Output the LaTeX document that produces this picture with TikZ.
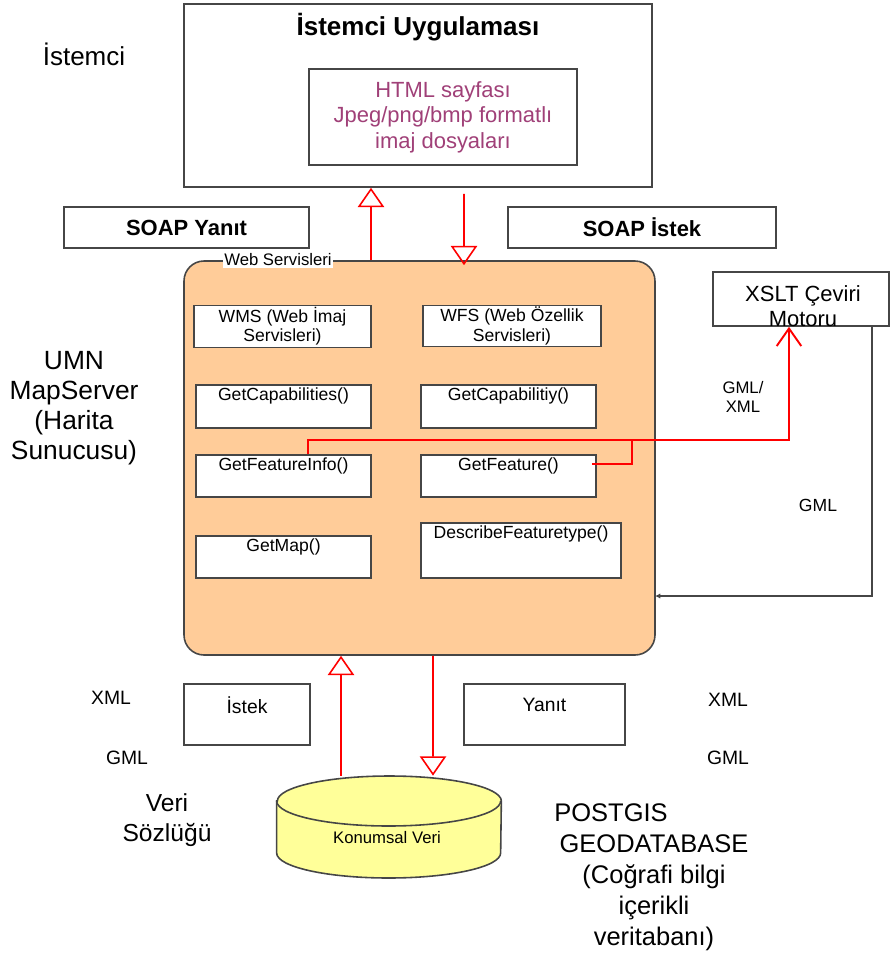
\documentclass[tikz,border=0pt]{standalone}
\usepackage{fontspec}
\setmainfont{Liberation Sans}
\usepackage{xcolor}
\definecolor{boxgrey}{RGB}{70, 70, 70}
\definecolor{peachfill}{RGB}{255, 204, 153}
\definecolor{htmlpurple}{RGB}{160, 64, 120}
\definecolor{dbyellow}{RGB}{255, 255, 153}
\definecolor{flowred}{RGB}{255, 0, 0}
\usetikzlibrary{shapes.geometric, arrows.meta, positioning, calc}

\begin{document}
\begin{tikzpicture}[
    box/.style={rectangle, draw=boxgrey, fill=white, line width=0.9pt, inner sep=1pt, align=center},
    svc/.style={box, minimum width=3.5cm, minimum height=0.84cm,
        label={[font=\fontsize{10}{11}\selectfont, anchor=north, inner sep=1pt, yshift=-1pt]north:#1}},
    plain/.style={align=center, inner sep=1pt},
    openarrow/.style={-{Triangle[open, width=15pt, length=11pt, line width=0.9pt]}, flowred, line width=1.1pt},
    redline/.style={flowred, line width=1.1pt},
    barbarrow/.style={-{Straight Barb[width=14pt, length=10pt]}, flowred, line width=1.1pt},
    gmlarrow/.style={-{Latex[length=3pt, width=3pt]}, boxgrey, line width=0.8pt}
]
    \useasboundingbox (0,0) rectangle (17.8,-19.16);

    % Client side
    \node[box, minimum width=9.36cm, minimum height=3.66cm] (client) at (8.36,-1.91) {};
    \node[plain, font=\fontsize{14.8}{16}\selectfont\bfseries] (clienttitle) at (8.36,-0.54) {İstemci Uygulaması};
    \node[box, minimum width=5.36cm, minimum height=1.92cm, text=htmlpurple,
        font=\fontsize{12.5}{14.5}\selectfont] (html) at (8.86,-2.34) {HTML sayfası\\Jpeg/png/bmp formatlı\\imaj dosyaları};
    \node[plain, font=\fontsize{14.8}{16}\selectfont] (clientlbl) at (1.68,-1.08) {İstemci};

    % SOAP messages
    \node[box, minimum width=4.9cm, minimum height=0.82cm, font=\fontsize{12.5}{14}\selectfont\bfseries] (soapres) at (3.73,-4.55) {SOAP Yanıt};
    \node[box, minimum width=5.36cm, minimum height=0.82cm, font=\fontsize{12.5}{14}\selectfont\bfseries] (soapreq) at (12.84,-4.55) {SOAP İstek};

    % Web services
    \node[box, fill=peachfill, rounded corners=0.4cm, minimum width=9.42cm, minimum height=7.88cm] (ws) at (8.39,-9.16) {};
    \node[plain, fill=white, font=\fontsize{9.5}{11}\selectfont] (wslbl) at (5.56,-5.2) {Web Servisleri};
    \node[box, minimum width=3.54cm, minimum height=0.82cm, font=\fontsize{10}{11}\selectfont] (wms) at (5.65,-6.53) {WMS (Web İmaj\\Servisleri)};
    \node[box, minimum width=3.56cm, minimum height=0.8cm, font=\fontsize{10}{11}\selectfont] (wfs) at (10.24,-6.52) {WFS (Web Özellik\\Servisleri)};
    \node[svc={GetCapabilities()}, minimum height=0.86cm] (getcap) at (5.67,-8.13) {};
    \node[svc={GetCapabilitiy()}, minimum height=0.86cm] (getcapwfs) at (10.17,-8.13) {};
    \node[svc={GetFeatureInfo()}] (getinfo) at (5.67,-9.52) {};
    \node[svc={GetFeature()}] (getfeat) at (10.17,-9.52) {};
    \node[svc={GetMap()}] (getmap) at (5.67,-11.14) {};
    \node[svc={DescribeFeaturetype()}, minimum width=4cm, minimum height=1.1cm] (descft) at (10.42,-11.01) {};
    \node[plain, font=\fontsize{15}{17}\selectfont] (umnlbl) at (1.48,-8.16) {UMN\\MapServer\\(Harita\\Sunucusu)};

    % XSLT engine
    \node[box, minimum width=3.52cm, minimum height=1.08cm] (xslt) at (16.02,-5.98) {};
    \node[plain, font=\fontsize{12.5}{14.2}\selectfont] (xsltlbl) at (16.06,-6.13) {XSLT Çeviri\\Motoru};
    \node[plain, font=\fontsize{9.5}{11}\selectfont] (gmlxml) at (14.86,-7.94) {GML/\\XML};
    \node[plain, font=\fontsize{10}{12}\selectfont] (gmlback) at (16.36,-10.1) {GML};
    \coordinate (joinpt) at (12.64,-8.82);
    \coordinate (gmlin) at (13.1,-11.92);

    % Database side
    \node[box, minimum width=2.52cm, minimum height=1.22cm] (istek) at (4.94,-14.29) {};
    \node[plain, font=\fontsize{11}{13}\selectfont] at (4.94,-14.1) {İstek};
    \node[box, minimum width=3.22cm, minimum height=1.22cm] (yanit) at (10.89,-14.29) {};
    \node[plain, font=\fontsize{11}{13}\selectfont] at (10.89,-14.1) {Yanıt};
    \node[plain, font=\fontsize{11}{12}\selectfont] (xmlleft) at (2.22,-13.96) {XML};
    \node[plain, font=\fontsize{11}{12}\selectfont] (gmlleft) at (2.54,-15.16) {GML};
    \node[plain, font=\fontsize{11}{12}\selectfont] (xmlright) at (14.56,-14.0) {XML};
    \node[plain, font=\fontsize{11}{12}\selectfont] (gmlright) at (14.56,-15.16) {GML};
    \node[inner sep=0pt, minimum width=4.48cm, minimum height=2.04cm] (db) at (7.78,-16.54) {};
    \filldraw[draw=boxgrey, fill=dbyellow, line width=0.9pt]
        (db.north west |- 0,-16.02) -- (db.south west |- 0,-17.06)
        arc[start angle=180, end angle=360, x radius=2.24cm, y radius=0.5cm]
        -- (db.north east |- 0,-16.02)
        arc[start angle=0, end angle=180, x radius=2.24cm, y radius=0.5cm] -- cycle;
    \draw[boxgrey, line width=0.9pt] (db.north west |- 0,-16.02)
        arc[start angle=180, end angle=360, x radius=2.24cm, y radius=0.5cm];
    \node[plain, font=\fontsize{9.5}{11}\selectfont] (dblbl) at (7.74,-16.76) {Konumsal Veri};
    \node[plain, font=\fontsize{14}{17}\selectfont] (dictlbl) at (3.34,-16.4) {Veri\\Sözlüğü};
    \node[plain, font=\fontsize{14.5}{17.6}\selectfont] (pglbl) at (13.08,-17.55) {POSTGIS\hspace*{1.72cm}\\GEODATABASE\\(Coğrafi bilgi\\içerikli\\veritabanı)};

    % Arrows
    \draw[openarrow] ([xshift=-0.97cm]ws.north) -- ([xshift=-0.94cm]client.south);
    \draw[openarrow] ([xshift=0.92cm,yshift=-0.12cm]client.south) -- ([xshift=0.89cm,yshift=-0.1cm]ws.north);
    \draw[openarrow] ([xshift=-0.96cm]db.north) -- ([xshift=-1.57cm]ws.south);
    \draw[openarrow] ([xshift=0.27cm]ws.south) -- ([xshift=0.88cm]db.north);
    \draw[barbarrow] ([xshift=0.49cm]getinfo.north) -- ++(0,0.28) -| ([xshift=-0.24cm]xslt.south);
    \draw[redline] ([xshift=-0.1cm,yshift=0.24cm]getfeat.east) -| (joinpt);
    \draw[gmlarrow] ([xshift=-0.36cm]xslt.south east) |- (gmlin);
\end{tikzpicture}
\end{document}
